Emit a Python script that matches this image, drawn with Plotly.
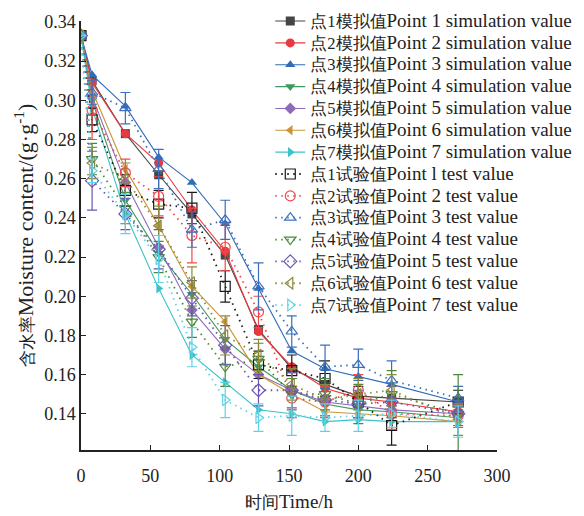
import plotly.graph_objects as go

times = [0, 8, 32, 56, 80, 104, 128, 152, 176, 200, 224, 272]

sim_p1 = [0.333, 0.310, 0.283, 0.262, 0.242, 0.221, 0.183, 0.163, 0.155, 0.149, 0.148, 0.146]
sim_p2 = [0.333, 0.309, 0.283, 0.268, 0.244, 0.223, 0.182, 0.164, 0.153, 0.148, 0.146, 0.141]
sim_p3 = [0.333, 0.313, 0.297, 0.271, 0.258, 0.237, 0.204, 0.172, 0.163, 0.159, 0.155, 0.146]
sim_p4 = [0.333, 0.300, 0.249, 0.222, 0.201, 0.178, 0.164, 0.152, 0.145, 0.142, 0.141, 0.138]
sim_p5 = [0.333, 0.302, 0.258, 0.225, 0.193, 0.173, 0.160, 0.152, 0.146, 0.144, 0.142, 0.140]
sim_p6 = [0.333, 0.305, 0.265, 0.236, 0.205, 0.187, 0.160, 0.150, 0.141, 0.140, 0.139, 0.136]
sim_p7 = [0.333, 0.296, 0.242, 0.204, 0.170, 0.156, 0.142, 0.140, 0.136, 0.137, 0.136, 0.136]

test_p1 = [0.333, 0.290, 0.254, 0.247, 0.245, 0.205, 0.165, 0.162, 0.158, 0.146, 0.134, 0.146]
test_p2 = [0.333, 0.295, 0.263, 0.251, 0.231, 0.225, 0.192, 0.148, 0.146, 0.152, 0.140, 0.139]
test_p3 = [0.333, 0.304, 0.296, 0.265, 0.234, 0.239, 0.205, 0.182, 0.164, 0.165, 0.157, 0.148]
test_p4 = [0.333, 0.270, 0.245, 0.220, 0.187, 0.164, 0.168, 0.150, 0.150, 0.145, 0.150, 0.140]
test_p5 = [0.333, 0.259, 0.242, 0.224, 0.199, 0.175, 0.152, 0.152, 0.147, 0.145, 0.146, 0.140]
test_p6 = [0.333, 0.268, 0.260, 0.236, 0.207, 0.180, 0.170, 0.155, 0.147, 0.150, 0.152, 0.137]
test_p7 = [0.333, 0.264, 0.242, 0.219, 0.174, 0.147, 0.138, 0.139, 0.138, 0.139, 0.140, 0.136]

err_p1 = [0, 0.006, 0.008, 0.007, 0.008, 0.008, 0.007, 0.008, 0.009, 0.008, 0.010, 0.006]
err_p2 = [0, 0.015, 0.007, 0.010, 0.014, 0.012, 0.008, 0.010, 0.008, 0.008, 0.008, 0.006]
err_p3 = [0, 0.006, 0.008, 0.010, 0.009, 0.010, 0.012, 0.008, 0.011, 0.008, 0.010, 0.006]
err_p4 = [0, 0.008, 0.008, 0.008, 0.008, 0.010, 0.008, 0.008, 0.008, 0.010, 0.012, 0.020]
err_p5 = [0, 0.015, 0.008, 0.010, 0.009, 0.010, 0.008, 0.009, 0.008, 0.007, 0.008, 0.006]
err_p6 = [0, 0.008, 0.008, 0.010, 0.008, 0.010, 0.008, 0.008, 0.008, 0.008, 0.008, 0.008]
err_p7 = [0, 0.006, 0.010, 0.012, 0.010, 0.009, 0.007, 0.010, 0.007, 0.008, 0.007, 0.008]

CJK = "<span style='font-size:16.5px'>{}</span>"
LAT = "<span style='font-size:19px'>{}</span>"
sim_names = [CJK.format(f"点{i}模拟值") + LAT.format(f"Point {i} simulation value") for i in range(1, 8)]
test_names = [CJK.format("点1试验值") + LAT.format("Point l test value")] + \
             [CJK.format(f"点{i}试验值") + LAT.format(f"Point {i} test value") for i in range(2, 8)]

sims = [sim_p1, sim_p2, sim_p3, sim_p4, sim_p5, sim_p6, sim_p7]
tests = [test_p1, test_p2, test_p3, test_p4, test_p5, test_p6, test_p7]
errs = [err_p1, err_p2, err_p3, err_p4, err_p5, err_p6, err_p7]

sim_colors = ["#454545", "#e8393f", "#2f6db8", "#3d9a5f", "#8e6bb8", "#c99538", "#3cc3c8"]
test_colors = ["#1a1a1a", "#f0484c", "#3a6fbd", "#4a8a3a", "#6a55b0", "#8a8a3c", "#5fd2e8"]
sim_symbols = ["square", "circle", "triangle-up", "triangle-down", "diamond", "triangle-left", "triangle-right"]
test_symbols = [s + "-open" for s in sim_symbols]

fig = go.Figure()
for i in range(7):
    fig.add_trace(go.Scatter(
        x=times, y=sims[i], name=sim_names[i], mode="lines+markers",
        line=dict(color=sim_colors[i], width=1.1),
        marker=dict(symbol=sim_symbols[i], size=9, color=sim_colors[i]),
    ))
for i in range(7):
    fig.add_trace(go.Scatter(
        x=times, y=tests[i], name=test_names[i], mode="lines+markers",
        line=dict(color=test_colors[i], width=1.8, dash="1.5px,4.5px"),
        marker=dict(symbol=test_symbols[i], size=10, color=test_colors[i], line=dict(width=1.2)),
        error_y=dict(type="data", array=errs[i], visible=True, color=test_colors[i], thickness=1.2, width=5),
    ))

font_family = "Liberation Serif"

fig.update_layout(
    width=584, height=516,
    margin=dict(l=81, r=87, t=21, b=66, autoexpand=False),
    paper_bgcolor="white", plot_bgcolor="white",
    font=dict(family=font_family, size=18, color="#222"),
    showlegend=True,
    legend=dict(
        x=0.455, y=1.037, xanchor="left", yanchor="top",
        bgcolor="rgba(0,0,0,0)", font=dict(size=14.5, family=font_family),
        tracegroupgap=0, itemwidth=30, maxheight=420,
    ),
    xaxis=dict(
        range=[0, 300], tickmode="array", tickvals=[0, 50, 100, 150, 200, 250, 300],
        ticks="inside", ticklen=5, tickcolor="#222", showline=True, linecolor="#222", linewidth=1.5,
        showgrid=False, zeroline=False, ticklabelstandoff=9,
        title=dict(text=CJK.format("时间") + "Time/h", font=dict(size=19), standoff=9),
        tickfont=dict(size=18),
    ),
    yaxis=dict(
        range=[0.1215, 0.3405], tickmode="array",
        tickvals=[0.14, 0.16, 0.18, 0.20, 0.22, 0.24, 0.26, 0.28, 0.30, 0.32, 0.34],
        ticktext=["0.14", "0.16", "0.18", "0.20", "0.22", "0.24", "0.26", "0.28", "0.30", "0.32", "0.34"],
        ticks="inside", ticklen=5, tickcolor="#222", showline=True, linecolor="#222", linewidth=1.5,
        showgrid=False, zeroline=False,
        title=dict(text=CJK.format("含水率") + "Moisture content/(g·g<sup>-1</sup>)", font=dict(size=22), standoff=4),
        tickfont=dict(size=18),
    ),
)

fig.write_html("out.html")
